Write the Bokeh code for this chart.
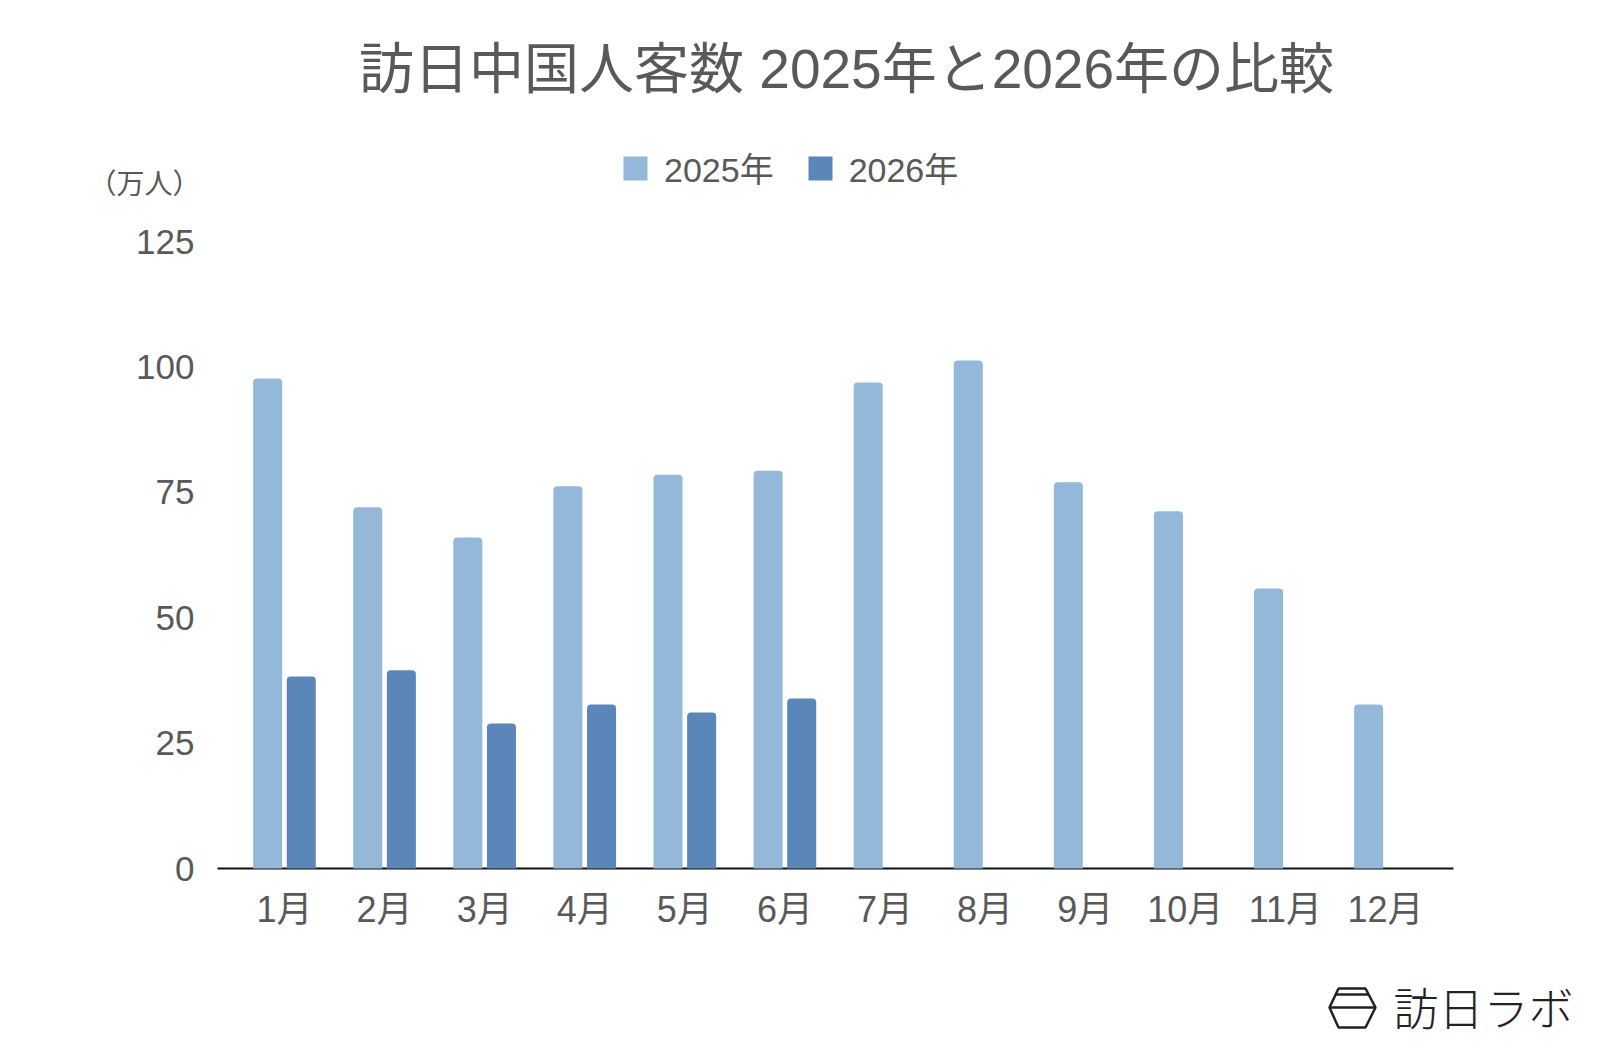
from bokeh.plotting import figure
from bokeh.models import (Range1d, FixedTicker, Legend, LegendItem, Label,
                          PolyAnnotation, ColumnDataSource)
from bokeh.embed import file_html
from bokeh.resources import INLINE

# ---- data ----
months = ["1月", "2月", "3月", "4月", "5月", "6月", "7月", "8月", "9月", "10月", "11月", "12月"]
visitors_2025 = [97.7, 72.0, 66.0, 76.2, 78.5, 79.3, 96.9, 101.3, 77.0, 71.2, 55.8, 32.7]
visitors_2026 = [38.3, 39.5, 28.9, 32.7, 31.1, 33.9]
series_names = ["2025年", "2026年"]
y_ticks = [0, 25, 50, 75, 100, 125]
title_text = "訪日中国人客数 2025年と2026年の比較"
unit_text = "（万人）"
brand_text = "訪日ラボ"

# ---- style / layout ----
C_LIGHT = "#93b8da"
C_DARK = "#5b86b9"
TXT = "#595959"
FONT = "Liberation Sans, Noto Sans CJK JP"

W, H = 1592, 1040            # whole figure = plotting frame
PAGE_OFF = 0
AX_LEFT_PX, AX_RIGHT_PX = 217, 1453
BASE_PX, TOP_PX = 868, 241
X0, X1 = -0.169, 12.18       # data x at AX_LEFT_PX / AX_RIGHT_PX
Y0, Y1 = 0, 125              # data y at BASE_PX / TOP_PX
sx = (AX_RIGHT_PX - AX_LEFT_PX) / (X1 - X0)
sy = (BASE_PX - TOP_PX) / (Y1 - Y0)
XA = X0 - (AX_LEFT_PX - PAGE_OFF) / sx
XB = X0 + (PAGE_OFF + W - AX_LEFT_PX) / sx
YA = Y0 - (PAGE_OFF + H - BASE_PX) / sy
YB = Y0 + (BASE_PX - PAGE_OFF) / sy

def px2x(px):  # page pixel -> data x (decoration placement only)
    return X0 + (px - AX_LEFT_PX) / sx

def py2y(py):
    return Y0 + (BASE_PX - py) / sy

p = figure(width=W, height=H, output_backend="svg", toolbar_location=None,
           x_range=Range1d(XA, XB), y_range=Range1d(YA, YB),
           min_border_left=0, min_border_right=0, min_border_top=0, min_border_bottom=0)
p.outline_line_color = None
p.grid.visible = False
p.background_fill_color = "white"
p.border_fill_color = "white"

idx = [i + 0.5 for i in range(len(months))]
off = 0.168
bw = 0.29
src25 = ColumnDataSource(dict(x=[v - off for v in idx], top=visitors_2025))
src26 = ColumnDataSource(dict(x=[v + off for v in idx[:len(visitors_2026)]], top=visitors_2026))

r1 = p.vbar(x="x", top="top", width=bw, bottom=0, source=src25, fill_color=C_LIGHT,
            line_color=None, border_radius=(4, 4, 0, 0))
r2 = p.vbar(x="x", top="top", width=bw, bottom=0, source=src26, fill_color=C_DARK,
            line_color=None, border_radius=(4, 4, 0, 0))

# baseline (x axis line) from axis start to axis end, under the bars
p.add_layout(PolyAnnotation(xs=[X0, X1], ys=[0, 0], fill_alpha=0, line_alpha=1,
                            line_color="#111111", line_width=2, level="underlay"))

# axes
p.xaxis.fixed_location = 0
p.xaxis.ticker = FixedTicker(ticks=idx)
p.xaxis.major_label_overrides = {v: m for v, m in zip(idx, months)}
p.xaxis.axis_line_color = None
p.xaxis.major_tick_line_color = None
p.xaxis.minor_tick_line_color = None
p.xaxis.major_tick_out = 0
p.xaxis.major_tick_in = 0
p.xaxis.major_label_standoff = 20
p.xaxis.major_label_text_font = FONT
p.xaxis.major_label_text_font_size = "36px"
p.xaxis.major_label_text_color = TXT

p.yaxis.fixed_location = X0
p.yaxis.ticker = FixedTicker(ticks=y_ticks)
p.yaxis.axis_line_color = None
p.yaxis.major_tick_line_color = None
p.yaxis.minor_tick_line_color = None
p.yaxis.major_tick_out = 0
p.yaxis.major_tick_in = 0
p.yaxis.major_label_standoff = 23
p.yaxis.major_label_text_font = FONT
p.yaxis.major_label_text_font_size = "35px"
p.yaxis.major_label_text_color = TXT

# legend
legend = Legend(items=[LegendItem(label=series_names[0], renderers=[r1]),
                       LegendItem(label=series_names[1], renderers=[r2])],
                orientation="horizontal", location=(620 - PAGE_OFF, PAGE_OFF + H - 192),
                glyph_width=30, glyph_height=30, label_standoff=14, spacing=31,
                padding=0, margin=0, border_line_color=None, background_fill_alpha=0,
                label_text_font=FONT, label_text_font_size="34px", label_text_color=TXT)
p.add_layout(legend)

# title & unit
p.add_layout(Label(x=px2x(846), y=py2y(68), text=title_text, text_align="center",
                   text_baseline="middle", text_font=FONT, text_font_size="55px",
                   text_color=TXT))
p.add_layout(Label(x=px2x(88), y=py2y(181), text=unit_text, text_align="left",
                   text_baseline="middle", text_font="Noto Sans CJK JP", text_font_size="28px",
                   text_color=TXT))

# brand logo (decoration)
hx = [1338, 1365, 1375, 1365, 1338, 1329]
hy = [988, 988, 1007, 1027, 1027, 1007]
logo_style = dict(fill_alpha=0, line_alpha=1, line_color="#222222", line_width=2.5)
p.add_layout(PolyAnnotation(xs=[px2x(v) for v in hx], ys=[py2y(v) for v in hy], **logo_style))
p.add_layout(PolyAnnotation(xs=[px2x(1329), px2x(1375)], ys=[py2y(1007), py2y(1007)], **logo_style))
p.add_layout(PolyAnnotation(xs=[px2x(1335), px2x(1368)], ys=[py2y(994), py2y(994)], **logo_style))
p.add_layout(Label(x=px2x(1393), y=py2y(1006), text=brand_text, text_align="left",
                   text_baseline="middle", text_font="'Noto Sans CJK JP Light', 'Noto Sans CJK JP'",
                   text_font_size="45px", text_color="#222222"))

open("out.html", "w").write(file_html(p, INLINE))
